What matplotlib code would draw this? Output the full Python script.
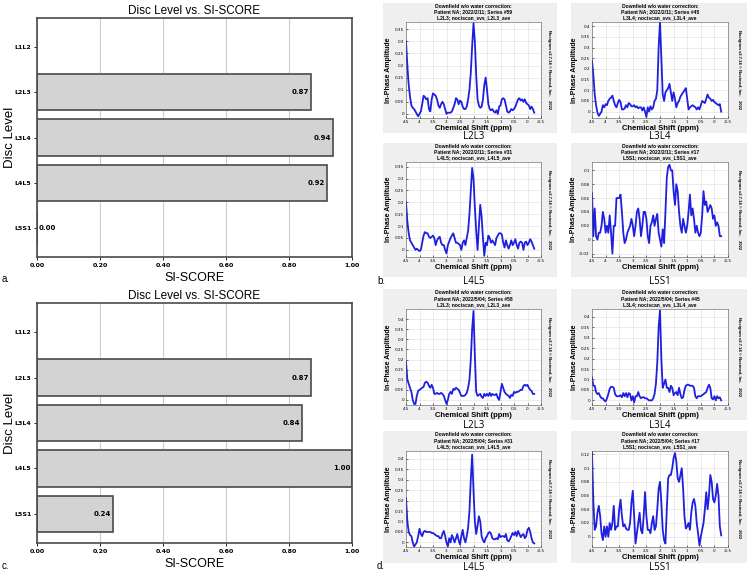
import numpy as np
import matplotlib
matplotlib.use("Agg")
import matplotlib.pyplot as plt

W, H = 750, 573

# Bar charts (a, c)
disc_levels = ["L1L2", "L2L3", "L3L4", "L4L5", "L5S1"]
si_score_a = [None, 0.87, 0.94, 0.92, 0.00]
si_score_c = [None, 0.87, 0.84, 1.00, 0.24]

# Spectra (b, d): amplitude read every 0.05 ppm from 4.5 down to -0.25
ppm = np.round(np.arange(4.5, -0.26, -0.05), 2)

b_l2l3 = [0.30, 0.20, 0.12, 0.07, 0.035, 0.025, 0.02, 0.01, 0.0, -0.01,
          0.0, 0.01, 0.04, 0.075, 0.07, 0.06, 0.065, 0.02, 0.01, 0.06,
          0.085, 0.08, 0.075, 0.06, 0.035, 0.025, 0.04, 0.05, 0.04, 0.02,
          0.0, 0.005, 0.005, 0.005, 0.01, 0.025, 0.04, 0.065, 0.06, 0.04,
          0.055, 0.05, 0.03, 0.02, 0.02, 0.03, 0.06, 0.10, 0.17, 0.28,
          0.375, 0.30, 0.16, 0.06, 0.035, 0.025, 0.03, 0.06, 0.12, 0.15,
          0.10, 0.04, 0.02, 0.015, 0.02, 0.01, 0.005, 0.015, 0.0, 0.03,
          0.035, 0.06, 0.065, 0.06, 0.035, 0.01, 0.005, 0.01, 0.02, 0.015,
          0.02, 0.03, 0.045, 0.06, 0.065, 0.055, 0.06, 0.05, 0.06, 0.045,
          0.04, 0.035, 0.02, 0.03, 0.02, 0.005]

b_l3l4 = [0.24, 0.17, 0.08, 0.03, -0.005, -0.02, -0.01, 0.0, 0.03, 0.02,
          0.035, 0.03, 0.05, 0.06, 0.065, 0.075, 0.05, 0.03, 0.02, 0.04,
          0.055, 0.045, 0.01, 0.01, 0.015, 0.03, 0.02, 0.04, 0.035, 0.025,
          0.025, 0.03, 0.02, 0.025, 0.015, 0.02, 0.02, 0.005, 0.02, 0.0,
          -0.025, 0.02, 0.0, 0.025, 0.01, 0.02, 0.05, 0.06, 0.10, 0.30,
          0.42, 0.25, 0.08, 0.05, 0.09, 0.10, 0.11, 0.13, 0.09, 0.05,
          0.09, 0.06, 0.02, 0.04, 0.05, 0.07, 0.08, 0.09, 0.10, 0.11,
          0.06, 0.01, 0.02, 0.025, 0.03, 0.025, 0.02, 0.01, 0.02, 0.01,
          0.03, 0.05, 0.045, 0.04, 0.06, 0.08, 0.065, 0.06, 0.05, 0.055,
          0.045, 0.04, 0.035, 0.03, 0.035, 0.0]

b_l4l5 = [0.20, 0.12, 0.07, 0.04, 0.03, 0.02, 0.01, 0.0, 0.005, 0.0,
          -0.005, 0.0, 0.03, 0.06, 0.075, 0.07, 0.07, 0.055, 0.05, 0.055,
          0.06, 0.05, 0.02, 0.04, 0.05, 0.055, 0.03, 0.02, 0.02, 0.0,
          -0.015, 0.02, 0.035, 0.05, 0.06, 0.07, 0.05, 0.03, 0.03, 0.025,
          0.02, 0.0, 0.03, 0.04, 0.02, 0.05, 0.08, 0.15, 0.25, 0.345,
          0.30, 0.18, 0.08, 0.0, 0.10, 0.19, 0.14, 0.05, -0.025, 0.03,
          0.02, 0.06, 0.05, 0.03, 0.04, 0.03, 0.02, 0.05, 0.06, 0.07,
          0.07, 0.065, 0.03, 0.01, 0.04, 0.02, 0.005, 0.02, 0.04, 0.02,
          0.03, 0.045, 0.02, 0.005, 0.03, 0.035, 0.03, 0.0, 0.03, 0.035,
          0.02, 0.03, 0.045, 0.035, 0.02, 0.005]

b_l5s1 = [0.067, 0.005, 0.045, 0.005, 0.0, 0.01, 0.01, 0.02, 0.04, 0.03,
          0.01, 0.02, 0.01, 0.035, 0.01, -0.02, 0.02, 0.02, 0.06, 0.06,
          0.06, 0.065, 0.04, 0.01, -0.005, 0.0, 0.01, 0.015, 0.02, 0.03,
          0.02, 0.005, 0.02, 0.04, 0.045, 0.03, 0.005, 0.02, 0.04, 0.04,
          0.03, 0.005, -0.005, 0.02, 0.025, 0.035, 0.02, 0.03, 0.037, 0.01,
          0.0, -0.01, 0.015, -0.005, 0.04, 0.09, 0.105, 0.108, 0.10, 0.10,
          0.07, 0.05, 0.08, 0.07, 0.04, 0.02, 0.01, 0.03, 0.02, 0.01,
          0.02, 0.04, 0.065, 0.035, 0.045, 0.03, 0.01, 0.02, 0.01, 0.005,
          0.01, 0.035, 0.07, 0.05, 0.055, 0.04, 0.045, 0.05, 0.045, 0.03,
          0.035, 0.02, 0.025, 0.02, 0.005, 0.005]

d_l2l3 = [0.19, 0.10, 0.08, 0.06, 0.04, 0.0, -0.02, -0.02, 0.02, 0.045,
          0.05, 0.055, 0.06, 0.065, 0.085, 0.09, 0.085, 0.07, 0.06, 0.075,
          0.06, 0.03, 0.03, 0.035, 0.03, 0.03, 0.035, 0.03, 0.02, 0.0,
          -0.02, 0.0, 0.03, 0.04, 0.03, 0.055, 0.05, 0.06, 0.055, 0.05,
          0.035, 0.02, 0.02, 0.02, 0.025, 0.035, 0.06, 0.10, 0.20, 0.35,
          0.44, 0.22, 0.04, 0.02, 0.025, 0.03, 0.015, 0.01, 0.03, 0.02,
          0.03, 0.02, 0.035, 0.02, 0.03, 0.025, 0.025, 0.03, 0.01, 0.0,
          0.04, 0.08, 0.06, 0.04, 0.03, 0.025, 0.02, 0.01, 0.025, 0.02,
          0.04, 0.035, 0.04, 0.04, 0.045, 0.05, 0.05, 0.07, 0.075, 0.07,
          0.075, 0.06, 0.05, 0.045, 0.03, 0.03]

d_l3l4 = [0.11, 0.07, 0.07, 0.04, 0.03, 0.035, 0.02, 0.01, 0.01, 0.0,
          -0.005, 0.01, 0.03, 0.055, 0.065, 0.065, 0.06, 0.03, 0.02, 0.02,
          0.02, 0.025, 0.015, 0.035, 0.02, 0.035, 0.015, 0.035, 0.03, 0.0,
          0.02, -0.01, 0.02, 0.02, 0.04, 0.02, 0.01, 0.015, 0.015, 0.01,
          0.01, 0.005, 0.0, 0.0, 0.0, 0.01, 0.03, 0.08, 0.18, 0.35,
          0.43, 0.20, 0.06, 0.08, 0.10, 0.06, 0.06, 0.04, 0.07, 0.06,
          0.025, 0.035, 0.04, 0.025, 0.06, 0.03, 0.01, 0.015, 0.05, 0.07,
          0.075, 0.075, 0.07, 0.07, 0.07, 0.06, 0.02, 0.01, 0.02, 0.02,
          0.02, 0.025, 0.03, 0.035, 0.04, 0.06, 0.075, 0.06, 0.01, 0.005,
          0.02, 0.0, 0.02, 0.01, 0.015, 0.0]

d_l4l5 = [0.21, 0.10, 0.05, 0.035, 0.03, 0.0, -0.02, -0.01, 0.0, 0.03,
          0.065, 0.04, 0.03, 0.05, 0.055, 0.05, 0.05, 0.05, 0.05, 0.045,
          0.045, 0.04, 0.035, 0.03, 0.03, 0.02, 0.02, 0.04, 0.055, 0.03,
          0.0, -0.02, 0.02, 0.0, 0.035, 0.02, 0.0, 0.02, 0.04, 0.01,
          -0.01, 0.03, 0.06, 0.02, 0.0, 0.03, 0.07, 0.15, 0.30, 0.42,
          0.25, 0.10, 0.04, 0.08, 0.125, 0.10, 0.03, 0.01, 0.0, 0.02,
          0.03, 0.045, 0.05, 0.04, 0.02, 0.015, 0.015, 0.02, 0.015, 0.04,
          0.025, 0.03, 0.03, 0.025, 0.04, 0.01, 0.005, 0.015, 0.03, 0.045,
          0.035, 0.05, 0.03, 0.055, 0.04, 0.025, 0.035, 0.04, 0.02, 0.03,
          0.06, 0.07, 0.05, 0.02, 0.0, -0.005]

d_l5s1 = [0.123, 0.05, 0.01, 0.015, 0.035, 0.045, 0.03, 0.005, -0.005, 0.015,
          0.0, 0.015, 0.0, 0.02, 0.01, 0.02, 0.045, 0.01, 0.015, 0.015,
          0.04, 0.054, 0.03, 0.015, 0.018, 0.012, 0.01, 0.01, 0.02, 0.05,
          0.067, 0.03, -0.01, 0.005, 0.02, 0.035, 0.01, 0.005, 0.03, 0.065,
          0.03, 0.01, 0.01, 0.005, 0.02, 0.03, 0.01, 0.015, 0.04, 0.07,
          0.08, 0.05, 0.01, -0.005, -0.01, 0.04, 0.085, 0.09, 0.09, 0.10,
          0.115, 0.122, 0.11, 0.085, 0.08, 0.09, 0.10, 0.07, 0.03, 0.012,
          0.015, 0.02, 0.01, 0.035, 0.05, 0.055, 0.045, 0.02, 0.005, -0.013,
          0.0, 0.01, 0.02, 0.04, 0.065, 0.04, 0.06, 0.09, 0.08, 0.055,
          0.05, 0.06, 0.077, 0.06, 0.015, 0.002]

levels = ["L2L3", "L3L4", "L4L5", "L5S1"]
b_series = ["#59", "#45", "#31", "#17"]
d_series = ["#58", "#45", "#31", "#17"]


def fx(x):
    return x / W


def fy(y):
    return 1 - y / H


def box(x0, y0, x1, y1):
    return [fx(x0), fy(y1), (x1 - x0) / W, (y1 - y0) / H]


fig = plt.figure(figsize=(7.5, 5.73), dpi=100)


# ---- bar charts ----
def bar_chart(rect, values, letter, letter_y):
    ax = fig.add_axes(rect)
    ypos = np.arange(len(disc_levels))
    for i, v in enumerate(values):
        if v is None:
            continue
        ax.barh(ypos[i], v, height=0.8, color="#d3d3d3", edgecolor="#4a4a4a", linewidth=1.2)
        if v > 0.1:
            ax.text(v - 0.006, ypos[i], f"{v:.2f}", ha="right", va="center",
                    fontsize=5, fontweight="bold")
        else:
            ax.text(v + 0.006, ypos[i], f"{v:.2f}", ha="left", va="center",
                    fontsize=5, fontweight="bold")
    ax.set_yticks(ypos)
    ax.set_yticklabels(disc_levels, fontsize=4.5, fontweight="bold")
    ax.set_ylim(-0.64, 4.64)
    ax.invert_yaxis()
    ax.set_xlim(0, 1.0)
    ax.set_xticks(np.arange(0, 1.01, 0.2))
    ax.set_xticklabels([f"{t:.2f}" for t in np.arange(0, 1.01, 0.2)], fontsize=4.5, fontweight="bold")
    ax.tick_params(length=2, width=0.6, pad=2)
    ax.grid(axis="x", color="#cccccc", linewidth=0.8)
    ax.set_axisbelow(True)
    for s in ax.spines.values():
        s.set_color("#4a4a4a")
        s.set_linewidth(1.2)
    ax.set_title("Disc Level vs. SI-SCORE", fontsize=8.5, family="Liberation Sans", pad=3)
    ax.set_xlabel("SI-SCORE", fontsize=9, family="Liberation Sans", labelpad=3)
    ax.set_ylabel("Disc Level", fontsize=9.5, family="Liberation Sans")
    ax.yaxis.set_label_coords(-0.066, 0.5)
    fig.text(fx(2), fy(letter_y), letter, fontsize=7, family="Liberation Sans", va="center")


bar_chart(box(37, 18, 352, 257), si_score_a, "a.", 279)
bar_chart(box(37, 303, 352, 543), si_score_c, "c.", 566)

# ---- spectra ----
cols = [dict(grey=(383, 557), axes=(406, 541)),
        dict(grey=(571, 747), axes=(592, 728))]
rows = [dict(grey=(3, 133), axes=(22, 118), label=137),
        dict(grey=(143, 277), axes=(162, 257), label=281),
        dict(grey=(289, 420), axes=(309, 405), label=425),
        dict(grey=(431, 563), axes=(451, 547), label=567)]

panels = [
    (0, 0, b_l2l3, (-0.017, 0.38), np.arange(0, 0.36, 0.05), "2022/2/11", b_series[0], levels[0]),
    (0, 1, b_l3l4, (-0.03, 0.42), np.arange(0, 0.41, 0.05), "2022/2/11", b_series[1], levels[1]),
    (1, 0, b_l4l5, (-0.03, 0.37), np.arange(0, 0.36, 0.05), "2022/2/11", b_series[2], levels[2]),
    (1, 1, b_l5s1, (-0.025, 0.112), np.arange(-0.02, 0.101, 0.02), "2022/2/11", b_series[3], levels[3]),
    (2, 0, d_l2l3, (-0.025, 0.45), np.arange(0, 0.41, 0.05), "2022/5/04", d_series[0], levels[0]),
    (2, 1, d_l3l4, (-0.022, 0.437), np.arange(0, 0.41, 0.05), "2022/5/04", d_series[1], levels[1]),
    (3, 0, d_l4l5, (-0.022, 0.437), np.arange(0, 0.41, 0.05), "2022/5/04", d_series[2], levels[2]),
    (3, 1, d_l5s1, (-0.015, 0.125), np.arange(0, 0.121, 0.02), "2022/5/04", d_series[3], levels[3]),
]

xt = np.arange(4.5, -0.51, -0.5)

for r, c, vals, ylim, yt, date, series, level in panels:
    gx0, gx1 = cols[c]["grey"]
    gy0, gy1 = rows[r]["grey"]
    ax0, ax1 = cols[c]["axes"]
    ay0, ay1 = rows[r]["axes"]
    # grey window behind each spectrum
    bg = fig.add_axes(box(gx0, gy0, gx1, gy1), zorder=-1)
    bg.set_facecolor("#efefef")
    bg.set_xticks([])
    bg.set_yticks([])
    for s in bg.spines.values():
        s.set_visible(False)

    ax = fig.add_axes(box(ax0, ay0, ax1, ay1))
    ax.plot(ppm, vals, color="#1f1fe0", linewidth=1.3)
    ax.set_xlim(4.5, -0.5)
    ax.set_ylim(*ylim)
    ax.set_xticks(xt)
    ax.set_xticklabels([f"{t:g}" for t in xt], fontsize=3)
    ax.set_yticks(yt)
    ax.set_yticklabels([f"{t:g}" for t in np.round(yt, 3)], fontsize=3)
    ax.tick_params(direction="in", length=1.5, width=0.4, pad=1.5)
    ax.grid(color="#dddddd", linewidth=0.4)
    for s in ax.spines.values():
        s.set_color("#555555")
        s.set_linewidth(0.4)
    ax.set_xlabel("Chemical Shift (ppm)", fontsize=5.5, fontweight="bold",
                  family="Liberation Sans", labelpad=1)
    ax.set_ylabel("In-Phase Amplitude", fontsize=5, fontweight="bold",
                  family="Liberation Sans", labelpad=2)
    cx = (ax0 + ax1) / 2
    title_lines = ["Downfield w/o water correction:",
                   f"Patient NA; {date}; Series {series}",
                   f"{level}; nociscan_svs_{level}_ave"]
    for k, line in enumerate(title_lines):
        fig.text(fx(cx), fy(ay0 - 16 + 6 * k), line, fontsize=3.6, fontweight="bold",
                 family="Liberation Sans", ha="center", va="center")
    fig.text(fx(gx1 - 8), fy((ay0 + ay1) / 2), "Nocigram v2.7.14 \u00a9 Nocimed, Inc.    2022",
             fontsize=3, fontweight="bold", family="Liberation Sans", rotation=-90,
             ha="center", va="center")
    fig.text(fx(cx), fy(rows[r]["label"]), level, fontsize=7, family="Open Sans",
             ha="center", va="center")

fig.text(fx(377), fy(281), "b.", fontsize=7, family="Liberation Sans", va="center")
fig.text(fx(377), fy(566), "d.", fontsize=7, family="Liberation Sans", va="center")

fig.savefig("out.png", dpi=100, facecolor="white")
